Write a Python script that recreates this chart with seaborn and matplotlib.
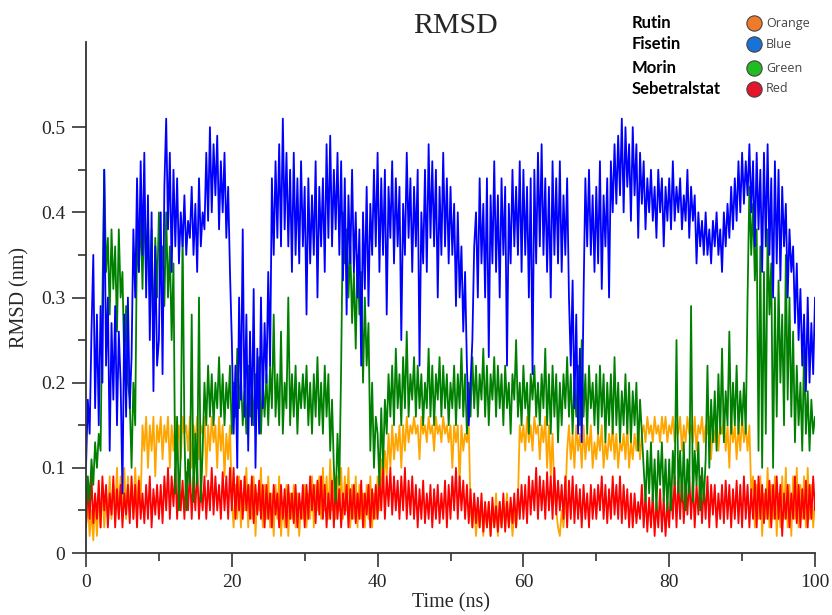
import numpy as np
import pandas as pd
import matplotlib
matplotlib.use("Agg")
import matplotlib.pyplot as plt
from matplotlib.lines import Line2D
from matplotlib.ticker import MultipleLocator
import seaborn as sns

# Sampling times of the trajectories (ns), one frame every 0.25 ns
time_ns = np.linspace(0, 100, 401)

# RMSD traces (nm); each row covers 5 ns
rutin = [
    0.03, 0.06, 0.02, 0.05, 0.015, 0.06, 0.02, 0.07, 0.03, 0.08, 0.03, 0.07, 0.04, 0.09, 0.04, 0.08, 0.05, 0.10, 0.04, 0.09,
    0.05, 0.10, 0.04, 0.09, 0.05, 0.08, 0.04, 0.10, 0.05, 0.09, 0.06, 0.15, 0.12, 0.16, 0.10, 0.15, 0.12, 0.16, 0.09, 0.15,
    0.13, 0.16, 0.11, 0.15, 0.13, 0.16, 0.10, 0.15, 0.12, 0.16, 0.13, 0.15, 0.11, 0.16, 0.14, 0.15, 0.12, 0.16, 0.10, 0.15,
    0.13, 0.16, 0.11, 0.15, 0.14, 0.16, 0.09, 0.15, 0.12, 0.16, 0.13, 0.15, 0.10, 0.16, 0.12, 0.15, 0.09, 0.14, 0.11, 0.15,
    0.06, 0.03, 0.08, 0.04, 0.09, 0.03, 0.07, 0.05, 0.10, 0.03, 0.08, 0.04, 0.09, 0.02, 0.07, 0.05, 0.10, 0.03, 0.08, 0.04,
    0.09, 0.03, 0.07, 0.02, 0.08, 0.04, 0.09, 0.02, 0.06, 0.03, 0.08, 0.02, 0.07, 0.04, 0.08, 0.03, 0.07, 0.02, 0.06, 0.04,
    0.08, 0.03, 0.07, 0.04, 0.09, 0.03, 0.08, 0.05, 0.09, 0.04, 0.10, 0.05, 0.09, 0.04, 0.11, 0.05, 0.10, 0.04, 0.09, 0.05,
    0.10, 0.04, 0.09, 0.05, 0.10, 0.03, 0.08, 0.04, 0.09, 0.03, 0.08, 0.04, 0.07, 0.03, 0.08, 0.04, 0.09, 0.03, 0.07, 0.04,
    0.09, 0.05, 0.11, 0.07, 0.12, 0.09, 0.14, 0.10, 0.15, 0.11, 0.14, 0.12, 0.15, 0.10, 0.15, 0.12, 0.16, 0.13, 0.15, 0.14,
    0.16, 0.14, 0.15, 0.11, 0.16, 0.14, 0.15, 0.13, 0.16, 0.14, 0.15, 0.12, 0.16, 0.14, 0.15, 0.13, 0.16, 0.14, 0.15, 0.13,
    0.15, 0.10, 0.15, 0.13, 0.15, 0.08, 0.15, 0.12, 0.14, 0.13, 0.15, 0.05, 0.03, 0.06, 0.02, 0.05, 0.03, 0.06, 0.02, 0.05,
    0.03, 0.06, 0.02, 0.05, 0.03, 0.07, 0.02, 0.06, 0.03, 0.05, 0.04, 0.07, 0.03, 0.06, 0.02, 0.05, 0.03, 0.06, 0.15, 0.13,
    0.15, 0.12, 0.16, 0.13, 0.15, 0.12, 0.16, 0.14, 0.15, 0.11, 0.15, 0.13, 0.16, 0.10, 0.15, 0.09, 0.14, 0.07, 0.05, 0.03,
    0.02, 0.05, 0.03, 0.06, 0.12, 0.15, 0.11, 0.14, 0.10, 0.15, 0.12, 0.14, 0.10, 0.15, 0.11, 0.14, 0.12, 0.15, 0.10, 0.13,
    0.11, 0.14, 0.12, 0.15, 0.10, 0.13, 0.11, 0.14, 0.12, 0.15, 0.11, 0.14, 0.10, 0.13, 0.12, 0.14, 0.11, 0.15, 0.10, 0.13,
    0.11, 0.14, 0.12, 0.15, 0.11, 0.14, 0.15, 0.13, 0.16, 0.14, 0.15, 0.13, 0.16, 0.14, 0.15, 0.13, 0.16, 0.14, 0.16, 0.13,
    0.15, 0.14, 0.16, 0.13, 0.15, 0.14, 0.16, 0.12, 0.15, 0.13, 0.16, 0.14, 0.15, 0.13, 0.16, 0.12, 0.15, 0.14, 0.16, 0.13,
    0.15, 0.14, 0.16, 0.11, 0.15, 0.13, 0.16, 0.12, 0.15, 0.14, 0.16, 0.12, 0.15, 0.10, 0.16, 0.13, 0.15, 0.11, 0.15, 0.12,
    0.16, 0.13, 0.15, 0.12, 0.15, 0.07, 0.09, 0.03, 0.08, 0.04, 0.09, 0.02, 0.07, 0.04, 0.10, 0.03, 0.08, 0.04, 0.09, 0.02,
    0.07, 0.03, 0.09, 0.04, 0.10, 0.03, 0.08, 0.02, 0.09, 0.04, 0.10, 0.03, 0.08, 0.04, 0.09, 0.03, 0.10, 0.04, 0.08, 0.03,
    0.06,
]

fisetin = [
    0.10, 0.18, 0.14, 0.26, 0.35, 0.17, 0.28, 0.15, 0.29, 0.20, 0.45, 0.22, 0.30, 0.12, 0.27, 0.18, 0.29, 0.15, 0.26, 0.20,
    0.07, 0.28, 0.16, 0.30, 0.17, 0.23, 0.38, 0.30, 0.44, 0.33, 0.46, 0.35, 0.47, 0.30, 0.42, 0.25, 0.40, 0.19, 0.36, 0.22,
    0.25, 0.40, 0.21, 0.43, 0.51, 0.38, 0.47, 0.33, 0.45, 0.36, 0.44, 0.34, 0.40, 0.36, 0.42, 0.35, 0.39, 0.37, 0.43, 0.35,
    0.41, 0.33, 0.44, 0.36, 0.40, 0.38, 0.47, 0.39, 0.50, 0.40, 0.48, 0.42, 0.49, 0.38, 0.46, 0.40, 0.47, 0.37, 0.43, 0.33,
    0.25, 0.14, 0.22, 0.10, 0.30, 0.18, 0.38, 0.16, 0.28, 0.12, 0.26, 0.15, 0.31, 0.10, 0.24, 0.14, 0.30, 0.17, 0.27, 0.20,
    0.33, 0.22, 0.44, 0.35, 0.46, 0.37, 0.48, 0.36, 0.51, 0.38, 0.47, 0.36, 0.45, 0.33, 0.47, 0.35, 0.44, 0.34, 0.46, 0.36,
    0.43, 0.28, 0.44, 0.34, 0.42, 0.35, 0.46, 0.30, 0.43, 0.36, 0.44, 0.33, 0.48, 0.37, 0.49, 0.36, 0.45, 0.38, 0.47, 0.35,
    0.46, 0.32, 0.44, 0.28, 0.42, 0.34, 0.45, 0.33, 0.40, 0.30, 0.38, 0.22, 0.40, 0.31, 0.43, 0.29, 0.41, 0.35, 0.45, 0.36,
    0.47, 0.33, 0.44, 0.35, 0.45, 0.28, 0.43, 0.37, 0.46, 0.34, 0.44, 0.36, 0.43, 0.25, 0.41, 0.35, 0.47, 0.37, 0.44, 0.33,
    0.43, 0.36, 0.45, 0.22, 0.40, 0.34, 0.45, 0.33, 0.48, 0.37, 0.46, 0.36, 0.45, 0.30, 0.43, 0.35, 0.47, 0.36, 0.44, 0.34,
    0.43, 0.35, 0.41, 0.29, 0.40, 0.30, 0.36, 0.26, 0.33, 0.22, 0.15, 0.20, 0.25, 0.36, 0.40, 0.30, 0.44, 0.34, 0.41, 0.30,
    0.44, 0.23, 0.42, 0.34, 0.46, 0.33, 0.42, 0.30, 0.44, 0.35, 0.43, 0.22, 0.41, 0.34, 0.45, 0.36, 0.43, 0.35, 0.46, 0.33,
    0.45, 0.35, 0.43, 0.30, 0.44, 0.21, 0.45, 0.34, 0.47, 0.36, 0.48, 0.35, 0.44, 0.33, 0.43, 0.30, 0.46, 0.35, 0.44, 0.34,
    0.46, 0.33, 0.42, 0.35, 0.44, 0.30, 0.22, 0.32, 0.17, 0.28, 0.14, 0.24, 0.13, 0.30, 0.44, 0.36, 0.45, 0.35, 0.42, 0.33,
    0.43, 0.34, 0.46, 0.31, 0.42, 0.36, 0.44, 0.30, 0.46, 0.40, 0.48, 0.41, 0.49, 0.42, 0.51, 0.40, 0.50, 0.43, 0.48, 0.39,
    0.50, 0.42, 0.48, 0.37, 0.47, 0.41, 0.46, 0.38, 0.44, 0.40, 0.45, 0.39, 0.43, 0.37, 0.45, 0.40, 0.44, 0.36, 0.43, 0.39,
    0.44, 0.38, 0.46, 0.39, 0.43, 0.40, 0.44, 0.38, 0.42, 0.39, 0.45, 0.37, 0.43, 0.39, 0.42, 0.34, 0.40, 0.36, 0.39, 0.35,
    0.40, 0.35, 0.38, 0.34, 0.39, 0.36, 0.40, 0.35, 0.38, 0.33, 0.40, 0.36, 0.41, 0.37, 0.43, 0.38, 0.44, 0.39, 0.46, 0.40,
    0.47, 0.41, 0.46, 0.42, 0.48, 0.40, 0.46, 0.36, 0.47, 0.38, 0.45, 0.33, 0.47, 0.36, 0.48, 0.35, 0.44, 0.30, 0.46, 0.34,
    0.45, 0.32, 0.43, 0.36, 0.41, 0.30, 0.38, 0.33, 0.36, 0.27, 0.34, 0.25, 0.31, 0.22, 0.28, 0.19, 0.30, 0.20, 0.27, 0.21,
    0.30,
]

morin = [
    0.05, 0.09, 0.06, 0.11, 0.08, 0.13, 0.10, 0.14, 0.12, 0.30, 0.45, 0.33, 0.37, 0.28, 0.38, 0.31, 0.36, 0.26, 0.38, 0.30,
    0.33, 0.22, 0.29, 0.20, 0.18, 0.10, 0.20, 0.15, 0.38, 0.33, 0.40, 0.31, 0.42, 0.32, 0.39, 0.30, 0.38, 0.24, 0.37, 0.30,
    0.40, 0.32, 0.36, 0.29, 0.40, 0.30, 0.36, 0.25, 0.34, 0.07, 0.16, 0.05, 0.12, 0.38, 0.14, 0.05, 0.11, 0.08, 0.28, 0.06,
    0.14, 0.08, 0.30, 0.06, 0.12, 0.20, 0.15, 0.22, 0.16, 0.21, 0.15, 0.20, 0.17, 0.23, 0.16, 0.21, 0.15, 0.20, 0.17, 0.22,
    0.14, 0.20, 0.16, 0.24, 0.17, 0.21, 0.15, 0.19, 0.14, 0.22, 0.16, 0.20, 0.15, 0.21, 0.17, 0.23, 0.14, 0.20, 0.16, 0.21,
    0.15, 0.22, 0.17, 0.28, 0.16, 0.21, 0.15, 0.26, 0.14, 0.20, 0.17, 0.30, 0.15, 0.21, 0.16, 0.22, 0.14, 0.20, 0.17, 0.21,
    0.17, 0.22, 0.15, 0.20, 0.14, 0.21, 0.16, 0.23, 0.15, 0.20, 0.14, 0.22, 0.16, 0.21, 0.12, 0.18, 0.10, 0.06, 0.14, 0.08,
    0.22, 0.40, 0.34, 0.38, 0.30, 0.36, 0.27, 0.33, 0.24, 0.35, 0.28, 0.33, 0.20, 0.30, 0.22, 0.27, 0.12, 0.20, 0.10, 0.16,
    0.14, 0.08, 0.17, 0.10, 0.18, 0.14, 0.21, 0.16, 0.22, 0.15, 0.24, 0.17, 0.21, 0.15, 0.23, 0.17, 0.26, 0.16, 0.21, 0.18,
    0.23, 0.16, 0.22, 0.17, 0.21, 0.15, 0.20, 0.17, 0.24, 0.16, 0.22, 0.15, 0.21, 0.18, 0.23, 0.16, 0.22, 0.17, 0.21, 0.15,
    0.20, 0.17, 0.22, 0.15, 0.21, 0.17, 0.24, 0.16, 0.21, 0.14, 0.20, 0.16, 0.23, 0.17, 0.22, 0.16, 0.21, 0.18, 0.24, 0.16,
    0.22, 0.15, 0.21, 0.18, 0.23, 0.16, 0.22, 0.17, 0.21, 0.15, 0.22, 0.17, 0.20, 0.14, 0.21, 0.18, 0.25, 0.16, 0.20, 0.15,
    0.22, 0.17, 0.20, 0.14, 0.21, 0.18, 0.22, 0.16, 0.20, 0.15, 0.21, 0.17, 0.24, 0.15, 0.21, 0.14, 0.22, 0.16, 0.21, 0.13,
    0.20, 0.15, 0.21, 0.17, 0.23, 0.16, 0.21, 0.14, 0.20, 0.16, 0.22, 0.15, 0.25, 0.16, 0.21, 0.14, 0.22, 0.17, 0.20, 0.15,
    0.21, 0.14, 0.22, 0.16, 0.21, 0.13, 0.20, 0.15, 0.21, 0.14, 0.23, 0.15, 0.20, 0.13, 0.19, 0.15, 0.21, 0.14, 0.20, 0.13,
    0.19, 0.15, 0.20, 0.12, 0.18, 0.14, 0.10, 0.06, 0.12, 0.07, 0.13, 0.06, 0.11, 0.05, 0.12, 0.08, 0.13, 0.06, 0.11, 0.05,
    0.11, 0.05, 0.12, 0.08, 0.25, 0.07, 0.12, 0.06, 0.13, 0.05, 0.11, 0.07, 0.29, 0.06, 0.12, 0.08, 0.13, 0.05, 0.10, 0.06,
    0.11, 0.22, 0.10, 0.18, 0.13, 0.19, 0.12, 0.21, 0.14, 0.24, 0.13, 0.19, 0.15, 0.26, 0.14, 0.20, 0.15, 0.22, 0.14, 0.19,
    0.15, 0.20, 0.14, 0.30, 0.43, 0.35, 0.41, 0.32, 0.38, 0.12, 0.36, 0.10, 0.33, 0.14, 0.38, 0.28, 0.34, 0.10, 0.30, 0.16,
    0.32, 0.20, 0.28, 0.15, 0.35, 0.18, 0.30, 0.16, 0.26, 0.13, 0.22, 0.15, 0.20, 0.12, 0.24, 0.14, 0.19, 0.12, 0.18, 0.14,
    0.16,
]

sebetralstat = [
    0.03, 0.08, 0.04, 0.09, 0.035, 0.07, 0.04, 0.085, 0.03, 0.09, 0.05, 0.08, 0.03, 0.07, 0.045, 0.09, 0.03, 0.075, 0.04, 0.08,
    0.03, 0.07, 0.045, 0.08, 0.035, 0.09, 0.04, 0.08, 0.03, 0.085, 0.04, 0.07, 0.035, 0.08, 0.04, 0.09, 0.03, 0.075, 0.045, 0.08,
    0.04, 0.08, 0.035, 0.09, 0.05, 0.10, 0.04, 0.09, 0.055, 0.10, 0.04, 0.09, 0.05, 0.085, 0.04, 0.095, 0.05, 0.10, 0.04, 0.09,
    0.05, 0.10, 0.04, 0.08, 0.05, 0.09, 0.04, 0.085, 0.05, 0.10, 0.045, 0.09, 0.05, 0.08, 0.04, 0.095, 0.05, 0.09, 0.04, 0.10,
    0.05, 0.10, 0.04, 0.09, 0.05, 0.085, 0.04, 0.09, 0.05, 0.08, 0.04, 0.09, 0.035, 0.08, 0.045, 0.085, 0.04, 0.08, 0.03, 0.08,
    0.04, 0.07, 0.03, 0.08, 0.045, 0.07, 0.03, 0.08, 0.04, 0.075, 0.03, 0.08, 0.04, 0.07, 0.035, 0.08, 0.03, 0.07, 0.04, 0.08,
    0.03, 0.08, 0.04, 0.09, 0.05, 0.08, 0.035, 0.085, 0.045, 0.09, 0.04, 0.08, 0.03, 0.07, 0.04, 0.085, 0.03, 0.08, 0.04, 0.075,
    0.03, 0.07, 0.045, 0.08, 0.03, 0.075, 0.04, 0.08, 0.035, 0.07, 0.04, 0.085, 0.03, 0.07, 0.045, 0.08, 0.03, 0.075, 0.04, 0.08,
    0.04, 0.09, 0.05, 0.10, 0.04, 0.09, 0.055, 0.10, 0.045, 0.09, 0.05, 0.085, 0.04, 0.09, 0.05, 0.10, 0.04, 0.085, 0.045, 0.09,
    0.04, 0.08, 0.03, 0.075, 0.04, 0.085, 0.035, 0.07, 0.04, 0.08, 0.03, 0.075, 0.04, 0.08, 0.035, 0.07, 0.04, 0.085, 0.03, 0.08,
    0.04, 0.09, 0.05, 0.10, 0.04, 0.09, 0.05, 0.085, 0.04, 0.08, 0.035, 0.075, 0.03, 0.07, 0.035, 0.065, 0.03, 0.07, 0.025, 0.06,
    0.03, 0.06, 0.02, 0.065, 0.03, 0.055, 0.025, 0.06, 0.03, 0.07, 0.025, 0.06, 0.03, 0.065, 0.035, 0.07, 0.03, 0.075, 0.04, 0.08,
    0.04, 0.08, 0.035, 0.09, 0.045, 0.085, 0.05, 0.10, 0.04, 0.09, 0.05, 0.085, 0.04, 0.095, 0.05, 0.09, 0.04, 0.10, 0.045, 0.085,
    0.05, 0.08, 0.04, 0.09, 0.03, 0.085, 0.04, 0.09, 0.035, 0.08, 0.04, 0.075, 0.03, 0.08, 0.04, 0.07, 0.03, 0.08, 0.04, 0.075,
    0.04, 0.08, 0.05, 0.09, 0.04, 0.08, 0.035, 0.075, 0.04, 0.09, 0.045, 0.08, 0.04, 0.09, 0.035, 0.08, 0.04, 0.075, 0.03, 0.07,
    0.03, 0.07, 0.035, 0.06, 0.04, 0.08, 0.03, 0.07, 0.025, 0.065, 0.03, 0.07, 0.02, 0.06, 0.03, 0.075, 0.025, 0.065, 0.02, 0.06,
    0.03, 0.08, 0.04, 0.09, 0.03, 0.085, 0.04, 0.09, 0.035, 0.08, 0.045, 0.09, 0.04, 0.085, 0.03, 0.08, 0.045, 0.09, 0.035, 0.08,
    0.04, 0.09, 0.03, 0.08, 0.045, 0.08, 0.03, 0.07, 0.04, 0.08, 0.035, 0.085, 0.04, 0.08, 0.03, 0.075, 0.04, 0.085, 0.035, 0.08,
    0.03, 0.09, 0.04, 0.08, 0.03, 0.075, 0.04, 0.085, 0.03, 0.09, 0.04, 0.08, 0.035, 0.075, 0.04, 0.085, 0.03, 0.08, 0.04, 0.09,
    0.04, 0.08, 0.02, 0.07, 0.04, 0.08, 0.03, 0.07, 0.04, 0.09, 0.035, 0.08, 0.03, 0.075, 0.04, 0.085, 0.03, 0.08, 0.04, 0.09,
    0.05,
]

compounds = ["Rutin", "Fisetin", "Morin", "Sebetralstat"]
line_colors = {"Rutin": "#FFA500", "Fisetin": "#0000FF",
               "Morin": "#008000", "Sebetralstat": "#FF0000"}
swatch_names = ["Orange", "Blue", "Green", "Red"]
swatch_colors = ["#F07A2A", "#1A72D6", "#22BB22", "#E3162B"]

df = pd.concat([
    pd.DataFrame({"Time (ns)": time_ns, "RMSD (nm)": vals, "Compound": name})
    for name, vals in zip(compounds, [rutin, fisetin, morin, sebetralstat])
], ignore_index=True)

sns.set_style("ticks")
plt.rcParams["font.family"] = ["Liberation Serif", "DejaVu Serif"]

fig = plt.figure(figsize=(8.32, 6.15), dpi=100)
ax = fig.add_axes([86 / 832, 62 / 615, 729 / 832, 511 / 615])

sns.lineplot(data=df, x="Time (ns)", y="RMSD (nm)", hue="Compound",
             hue_order=["Rutin", "Sebetralstat", "Morin", "Fisetin"],
             palette=line_colors, estimator=None, sort=False,
             linewidth=1.3, legend=False, ax=ax)

ax.set_xlim(0, 100)
ax.set_ylim(0, 0.6)
ax.set_xticks([0, 20, 40, 60, 80, 100])
ax.set_yticks([0, 0.1, 0.2, 0.3, 0.4, 0.5])
ax.set_yticklabels(["0", "0.1", "0.2", "0.3", "0.4", "0.5"])
ax.xaxis.set_minor_locator(MultipleLocator(10))
ax.set_yticks([0.05, 0.15, 0.25, 0.35, 0.45], minor=True)
ax.tick_params(axis="both", which="major", direction="out", length=10,
               width=1.2, labelsize=14, color="#333333", pad=5)
ax.tick_params(axis="both", which="minor", direction="out", length=6,
               width=1.2, color="#333333")
sns.despine(ax=ax)
for side in ("left", "bottom"):
    ax.spines[side].set_color("#333333")
    ax.spines[side].set_linewidth(1.3)

ax.set_xlabel("Time (ns)", fontsize=14.5, labelpad=2)
ax.set_ylabel("RMSD (nm)", fontsize=14.5, labelpad=8)
fig.text(455 / 832, 1 - 26 / 615, "RMSD", fontsize=21.5, ha="center",
         va="center")

# Colour key in the upper right corner
key_y = [23, 44, 68, 89]
for name, sw_name, sw_col, yy in zip(compounds, swatch_names, swatch_colors, key_y):
    yf = 1 - yy / 615
    fig.text(632 / 832, yf, name, fontsize=12, fontweight="bold",
             family=["Lato", "DejaVu Sans"], color="#000000",
             ha="left", va="center")
    fig.add_artist(Line2D([754 / 832], [yf], marker="o", markersize=11,
                          markerfacecolor=sw_col, markeredgecolor="#444444",
                          markeredgewidth=0.8, transform=fig.transFigure))
    fig.text(766 / 832, yf, sw_name, fontsize=9,
             family=["Open Sans", "DejaVu Sans"], color="#444444",
             ha="left", va="center")

fig.savefig("out.png", dpi=100)
